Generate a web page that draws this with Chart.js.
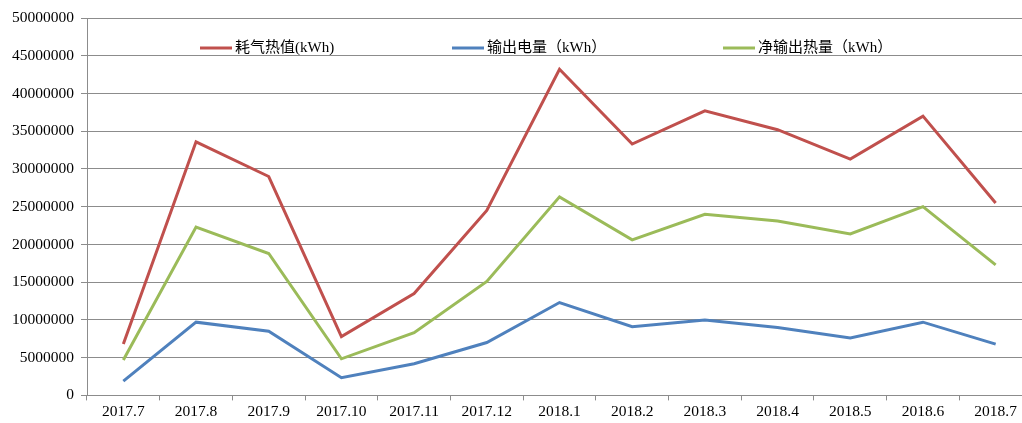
<!DOCTYPE html>
<html>
<head>
<meta charset="utf-8">
<script src="https://cdn.jsdelivr.net/npm/chart.js@4/dist/chart.umd.min.js"></script>
<style>
  html, body { margin: 0; padding: 0; background: #fff; overflow: hidden; }
  .wrap { width: 1040px; height: 423px; position: relative; }
</style>
</head>
<body>
<div class="wrap"><canvas id="chart"></canvas></div>
<script>
const months = ['2017.7', '2017.8', '2017.9', '2017.10', '2017.11', '2017.12',
  '2018.1', '2018.2', '2018.3', '2018.4', '2018.5', '2018.6', '2018.7'];
const gasHeat = [6800000, 33600000, 29000000, 7800000, 13500000, 24500000,
  43200000, 33300000, 37700000, 35200000, 31300000, 37000000, 25500000];
const powerOut = [1900000, 9700000, 8500000, 2350000, 4200000, 7000000,
  12300000, 9100000, 10000000, 9000000, 7600000, 9700000, 6800000];
const netHeat = [4700000, 22300000, 18800000, 4850000, 8300000, 15100000,
  26300000, 20600000, 24000000, 23100000, 21400000, 25000000, 17300000];
const seriesNames = ['耗气热值(kWh)', '输出电量（kWh）', '净输出热量（kWh）'];

const gridColor = '#8c8c8c';
const font = { family: "'Liberation Serif', 'Noto Sans CJK SC', serif", size: 15.5 };

// legend drawn inside the plot area, like the original
const insideLegend = {
  id: 'insideLegend',
  afterDatasetsDraw(chart) {
    const ctx = chart.ctx;
    const area = chart.chartArea;
    const starts = [113, 365, 636];
    const y = area.top + 30;
    ctx.save();
    ctx.font = '15px ' + font.family;
    ctx.textBaseline = 'middle';
    ctx.fillStyle = '#000';
    chart.data.datasets.forEach((ds, i) => {
      let x = area.left + starts[i];
      ctx.strokeStyle = ds.borderColor;
      ctx.lineWidth = 3;
      ctx.beginPath();
      ctx.moveTo(x, y);
      ctx.lineTo(x + 32, y);
      ctx.stroke();
      ctx.fillText(ds.label, x + 35, y);
    });
    ctx.restore();
  },
};

let ctx = document.getElementById('chart').getContext('2d');
const data = {
  labels: months,
  datasets: [
    { label: seriesNames[0], data: gasHeat, borderColor: '#c0504d' },
    { label: seriesNames[1], data: powerOut, borderColor: '#4f81bd' },
    { label: seriesNames[2], data: netHeat, borderColor: '#9bbb59' },
  ].map((d) => ({ ...d, borderWidth: 3, pointRadius: 0, tension: 0, fill: false })),
};
const config = {
  type: 'line',
  data: data,
  plugins: [insideLegend],
  options: {
    responsive: true,
    maintainAspectRatio: false,
    animation: false,
    layout: { padding: { top: 18, left: 5, right: 8, bottom: 0 } },
    plugins: { legend: { display: false }, tooltip: { enabled: false } },
    scales: {
      x: {
        offset: true,
        grid: { offset: true, drawOnChartArea: false, drawTicks: true, tickLength: 5, color: gridColor },
        border: { color: gridColor },
        ticks: { color: '#000', font: font, padding: 2, maxRotation: 0, autoSkip: false },
      },
      y: {
        min: 0,
        max: 50000000,
        grid: { color: gridColor, tickLength: 6 },
        border: { color: gridColor },
        ticks: { stepSize: 5000000, color: '#000', font: font, padding: 7, callback: (v) => String(v) },
      },
    },
  },
};
new Chart(ctx, config);
</script>
</body>
</html>
